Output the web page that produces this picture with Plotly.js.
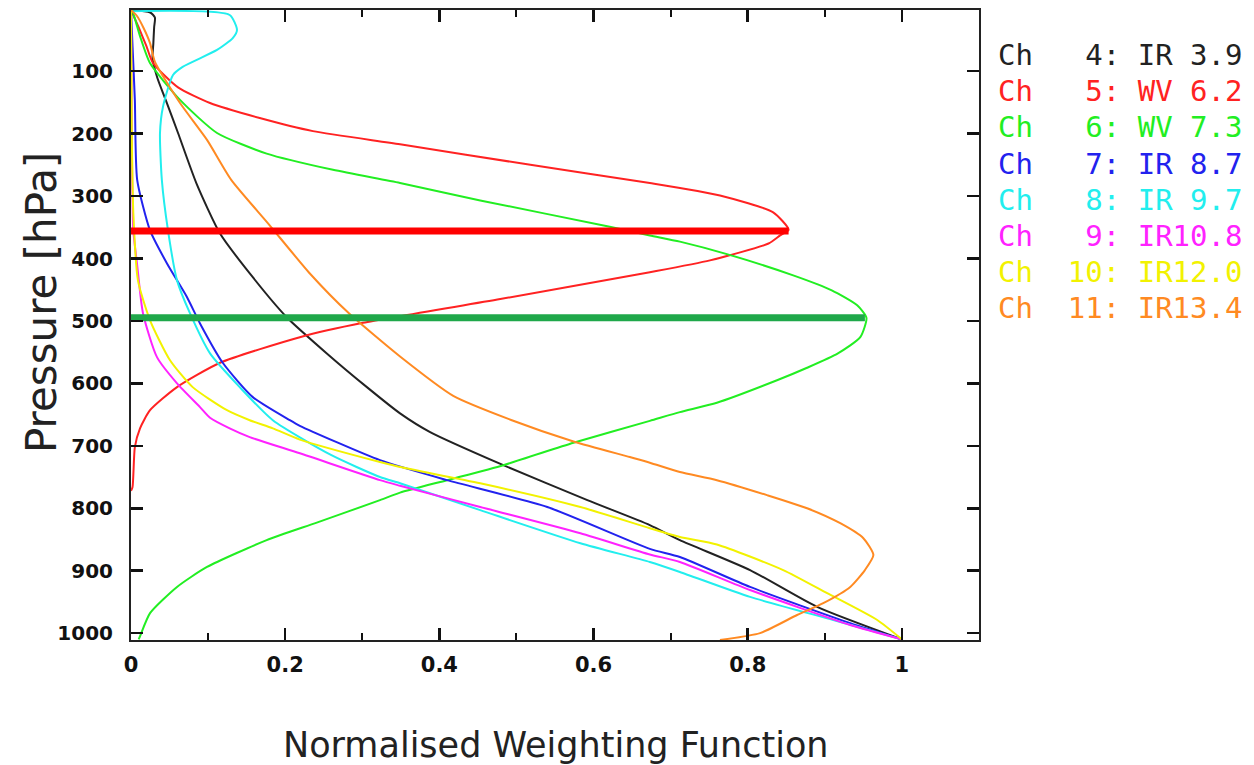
<!DOCTYPE html>
<html>
<head>
<meta charset="utf-8">
<script src="https://cdn.plot.ly/plotly-3.0.1.min.js"></script>
<style>html,body{margin:0;padding:0;background:#fff;}#chart{width:1254px;height:765px;}</style>
</head>
<body>
<div id="chart"></div>
<script>
// ---- Data (weighting value, pressure hPa) ----
const ch4_w = [0, 0.025, 0.031, 0.030, 0.029, 0.028, 0.034, 0.045, 0.061, 0.085, 0.1155, 0.158, 0.202, 0.254, 0.306, 0.349, 0.388, 0.483, 0.592, 0.673, 0.712, 0.803, 0.890, 1.0];
const ch4_p = [2, 6, 14, 30, 55, 80, 110, 146, 199, 280, 360, 430, 494, 552, 606, 648, 678, 731, 787, 827, 851, 899, 958, 1010];

const ch5_w = [0, 0.010, 0.020, 0.0285, 0.061, 0.1025, 0.167, 0.236, 0.349, 0.518, 0.673, 0.764, 0.833, 0.853, 0.842, 0.827, 0.751, 0.673, 0.479, 0.301, 0.219, 0.1155, 0.0597, 0.0247, 0.0117, 0.005, 0.002, 0];
const ch5_p = [2, 30, 60, 87, 126, 151, 175, 196, 217, 250, 279, 299, 326, 354, 363, 376, 403, 422, 465, 503, 526, 567, 606, 643, 672, 702, 766, 772];

const ch6_w = [0, 0.003, 0.012, 0.0246, 0.0636, 0.1116, 0.176, 0.262, 0.349, 0.453, 0.621, 0.673, 0.712, 0.773, 0.859, 0.909, 0.942, 0.954, 0.946, 0.917, 0.877, 0.838, 0.760, 0.712, 0.673, 0.574, 0.483, 0.410, 0.349, 0.323, 0.241, 0.176, 0.0986, 0.0597, 0.0247, 0.0117, 0.010];
const ch6_p = [2, 8, 45, 87, 146, 199, 232, 258, 279, 307, 349, 363, 373, 393, 427, 451, 475, 495, 526, 552, 575, 595, 631, 646, 660, 695, 731, 755, 775, 787, 823, 851, 894, 926, 968, 1005, 1010];

const ch7_w = [0, 0.002, 0.005, 0.008, 0.0247, 0.0467, 0.0727, 0.0895, 0.119, 0.158, 0.206, 0.219, 0.323, 0.410, 0.540, 0.673, 0.712, 0.803, 0.933, 1.0];
const ch7_p = [2, 60, 146, 274, 355, 408, 462, 504, 567, 622, 659, 668, 723, 755, 798, 865, 878, 926, 984, 1010];

const ch8_w = [0, 0.128, 0.1375, 0.132, 0.1116, 0.067, 0.0545, 0.0415, 0.0376, 0.040, 0.048, 0.0597, 0.0766, 0.1025, 0.141, 0.184, 0.26, 0.323, 0.349, 0.453, 0.583, 0.673, 0.712, 0.803, 0.911, 1.0];
const ch8_p = [4, 10, 34, 47, 66, 93, 106, 157, 199, 274, 355, 435, 488, 552, 606, 659, 715, 750, 760, 803, 856, 886, 902, 942, 979, 1010];

const ch9_w = [0, 0.001, 0.003, 0.0078, 0.0156, 0.0337, 0.0597, 0.0895, 0.1025, 0.128, 0.154, 0.219, 0.323, 0.349, 0.453, 0.583, 0.673, 0.712, 0.803, 0.933, 1.0];
const ch9_p = [2, 200, 355, 408, 488, 558, 600, 638, 655, 672, 686, 712, 755, 764, 798, 840, 874, 886, 931, 987, 1010];

const ch10_w = [0, 0.001, 0.003, 0.009, 0.0247, 0.0506, 0.080, 0.1245, 0.154, 0.184, 0.219, 0.323, 0.349, 0.453, 0.583, 0.673, 0.712, 0.760, 0.846, 0.903, 0.968, 1.0];
const ch10_p = [2, 200, 327, 435, 499, 563, 606, 643, 659, 672, 690, 726, 734, 760, 798, 832, 846, 858, 899, 936, 979, 1010];

const ch11_w = [0, 0.008, 0.016, 0.0247, 0.031, 0.0636, 0.0986, 0.130, 0.178, 0.232, 0.282, 0.349, 0.418, 0.494, 0.574, 0.647, 0.673, 0.712, 0.760, 0.825, 0.877, 0.920, 0.950, 0.963, 0.952, 0.933, 0.898, 0.864, 0.816, 0.764];
const ch11_p = [2, 12, 30, 55, 85, 151, 210, 274, 344, 424, 487, 557, 620, 659, 693, 718, 727, 742, 755, 779, 800, 824, 848, 875, 899, 926, 952, 971, 1000, 1011];

const channelW = [ch4_w, ch5_w, ch6_w, ch7_w, ch8_w, ch9_w, ch10_w, ch11_w];
const channelP = [ch4_p, ch5_p, ch6_p, ch7_p, ch8_p, ch9_p, ch10_p, ch11_p];
const channelLabels = ["Ch   4: IR 3.9", "Ch   5: WV 6.2", "Ch   6: WV 7.3", "Ch   7: IR 8.7",
                       "Ch   8: IR 9.7", "Ch   9: IR10.8", "Ch  10: IR12.0", "Ch  11: IR13.4"];
const channelColors = ["#222222", "#ff2222", "#22ee22", "#2222ee", "#22eeee", "#ff22ff", "#f2f200", "#ff8a22"];

// peak-level marker lines (Ch5 and Ch6)
const peakLevels = [356, 495];
const peakValues = [0.853, 0.952];
const peakColors = ["#ff0000", "#1fa84a"];

const xTickVals = [0, 0.2, 0.4, 0.6, 0.8, 1];
const xTickText = ["0", "0.2", "0.4", "0.6", "0.8", "1"];
const yTickVals = [100, 200, 300, 400, 500, 600, 700, 800, 900, 1000];
const yTickText = ["100", "200", "300", "400", "500", "600", "700", "800", "900", "1000"];

const xTitle = "Normalised Weighting Function";
const yTitle = "Pressure [hPa]";

// ---- Build traces ----
const traces = channelW.map((w, i) => ({
  x: w, y: channelP[i], type: "scatter", mode: "lines",
  line: {color: channelColors[i], width: 2, shape: "spline", smoothing: 0.6},
  hoverinfo: "skip", showlegend: false
}));
peakLevels.forEach((lev, i) => {
  traces.push({
    x: [0, peakValues[i]], y: [lev, lev], type: "scatter", mode: "lines",
    line: {color: peakColors[i], width: 7}, hoverinfo: "skip", showlegend: false
  });
});

// ---- Layout ----
const L = 131, R = 979, T = 10, B = 640;
const W = 1254, H = 765;
const pw = R - L, ph = B - T;
const px2x = (px) => (px - L) / pw;
const py2y = (py) => (B - py) / ph;

const annotations = channelLabels.map((t, i) => ({
  text: t.replace(/ /g, "\u00a0"), xref: "paper", yref: "paper",
  x: px2x(996), y: py2y(55 + 36.2 * i), xanchor: "left", yanchor: "middle",
  showarrow: false, font: {family: "DejaVu Sans Mono", size: 29, color: channelColors[i]}
}));
annotations.push({
  text: xTitle, xref: "paper", yref: "paper", x: px2x(556), y: py2y(745),
  xanchor: "center", yanchor: "middle", showarrow: false,
  font: {family: "DejaVu Sans", size: 35, color: "#222"}
});
annotations.push({
  text: yTitle, xref: "paper", yref: "paper", x: px2x(41), y: py2y(303),
  xanchor: "center", yanchor: "middle", showarrow: false, textangle: -90,
  font: {family: "DejaVu Sans", size: 42, color: "#222"}
});

const layout = {
  width: W, height: H,
  margin: {l: L, r: W - R, t: T, b: H - B, pad: 0},
  paper_bgcolor: "#fff", plot_bgcolor: "#fff",
  showlegend: false,
  xaxis: {
    range: [0, 1.1], tickvals: xTickVals, ticktext: xTickText,
    ticks: "inside", ticklen: 12, tickwidth: 2.5, tickcolor: "#111",
    minor: {dtick: 0.1, tick0: 0, ticks: "inside", ticklen: 7, tickwidth: 2, tickcolor: "#111"},
    showline: true, linewidth: 2, linecolor: "#222", mirror: "ticks",
    showgrid: false, zeroline: false, ticklabelstandoff: 5,
    tickfont: {family: "DejaVu Sans", size: 21, color: "#111", weight: "bold"}
  },
  yaxis: {
    range: [1011, 2], tickvals: yTickVals, ticktext: yTickText,
    ticks: "inside", ticklen: 12, tickwidth: 2.5, tickcolor: "#111",
    showline: true, linewidth: 2, linecolor: "#222", mirror: "ticks",
    showgrid: false, zeroline: false, ticklabelstandoff: 12,
    tickfont: {family: "DejaVu Sans", size: 20, color: "#111", weight: "bold"}
  },
  annotations: annotations
};

Plotly.newPlot("chart", traces, layout, {staticPlot: true, displayModeBar: false});
</script>
</body>
</html>
